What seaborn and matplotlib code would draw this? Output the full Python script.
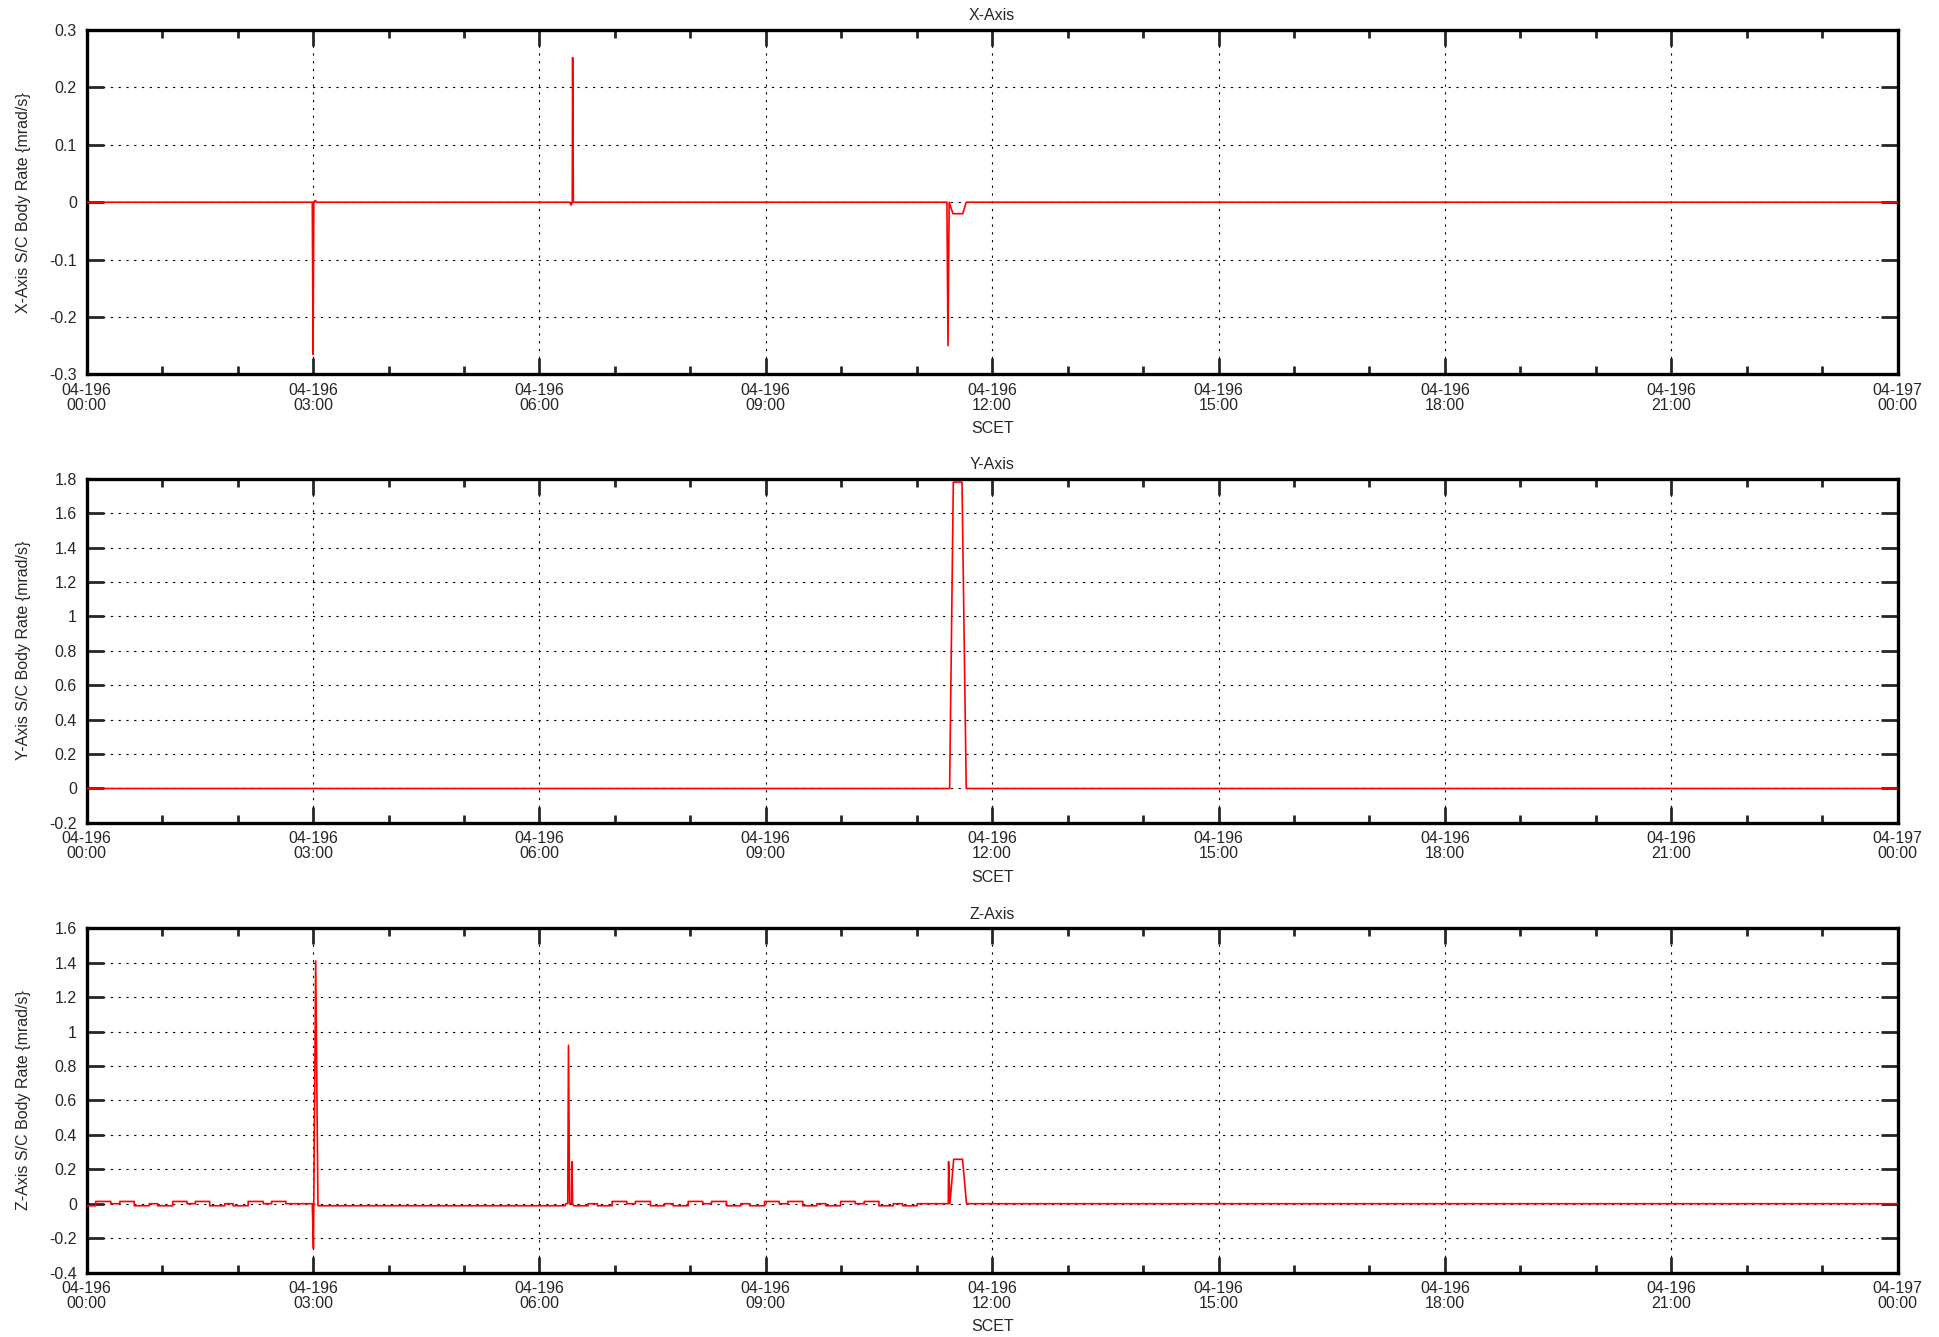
import matplotlib
matplotlib.use("Agg")
import matplotlib.pyplot as plt
import seaborn as sns
import pandas as pd
from matplotlib.ticker import FixedLocator, MultipleLocator

# time is hours since 04-196 00:00 SCET
x_hours = [0, 2.99, 3.0, 3.01, 3.03, 3.05, 6.40, 6.42, 6.435, 6.44, 6.45,
           11.40, 11.414, 11.43, 11.48, 11.61, 11.656, 24]
x_rate = [0, 0, -0.265, 0, 0.003, 0, 0, -0.005, 0, 0.252, 0,
          0, -0.25, 0, -0.02, -0.02, 0, 0]

y_hours = [0, 11.436, 11.485, 11.60, 11.656, 24]
y_rate = [0, 0, 1.78, 1.78, 0, 0]

z_hours = [0, 0.12, 0.12, 0.32, 0.32, 0.44, 0.44, 0.63, 0.63, 0.83, 0.83, 0.94, 0.94,
           1.14, 1.14, 1.33, 1.33, 1.44, 1.44, 1.63, 1.63, 1.83, 1.83, 1.94, 1.94,
           2.14, 2.14, 2.34, 2.34, 2.45, 2.45, 2.64, 2.64, 2.99,
           3.005, 3.035, 3.065, 6.34, 6.35, 6.375, 6.385, 6.40, 6.425, 6.43, 6.44, 6.455,
           6.645, 6.645, 6.769, 6.769, 6.963, 6.963, 7.157, 7.157, 7.273, 7.273,
           7.471, 7.471, 7.657, 7.657, 7.772, 7.772, 7.971, 7.971, 8.165, 8.165,
           8.280, 8.280, 8.479, 8.479, 8.669, 8.669, 8.788, 8.788, 8.983, 8.983,
           9.177, 9.177, 9.292, 9.292, 9.491, 9.491, 9.677, 9.677, 9.796, 9.796,
           9.991, 9.991, 10.185, 10.185, 10.304, 10.304, 10.499, 10.499, 10.689, 10.689,
           10.813, 10.813, 11.007, 11.007, 11.418, 11.422, 11.44, 11.49, 11.607, 11.66, 24]
z_rate = [-0.012, -0.012, 0.013, 0.013, 0, 0, 0.013, 0.013, -0.012, -0.012, 0, 0, -0.012,
          -0.012, 0.013, 0.013, 0, 0, 0.013, 0.013, -0.012, -0.012, 0, 0, -0.012,
          -0.012, 0.013, 0.013, 0, 0, 0.013, 0.013, 0, 0,
          -0.26, 1.41, -0.012, -0.012, 0, 0, 0.92, 0, 0, 0.244, 0, -0.012,
          -0.012, 0, 0, -0.012, -0.012, 0.013, 0.013, 0, 0, 0.013,
          0.013, -0.012, -0.012, 0, 0, -0.012, -0.012, 0.013, 0.013, 0,
          0, 0.013, 0.013, -0.012, -0.012, 0, 0, -0.012, -0.012, 0.013,
          0.013, 0, 0, 0.013, 0.013, -0.012, -0.012, 0, 0, -0.012,
          -0.012, 0.013, 0.013, 0, 0, 0.013, 0.013, -0.012, -0.012, 0,
          0, -0.012, -0.012, 0, 0, 0.244, 0, 0.258, 0.258, 0, 0]

tick_hours = [0, 3, 6, 9, 12, 15, 18, 21, 24]
tick_labels = ["04-196\n00:00", "04-196\n03:00", "04-196\n06:00", "04-196\n09:00",
               "04-196\n12:00", "04-196\n15:00", "04-196\n18:00", "04-196\n21:00",
               "04-197\n00:00"]

x_ticks = [-0.3, -0.2, -0.1, 0, 0.1, 0.2, 0.3]
x_tick_labels = ["-0.3", "-0.2", "-0.1", "0", "0.1", "0.2", "0.3"]
y_ticks = [-0.2, 0, 0.2, 0.4, 0.6, 0.8, 1.0, 1.2, 1.4, 1.6, 1.8]
y_tick_labels = ["-0.2", "0", "0.2", "0.4", "0.6", "0.8", "1", "1.2", "1.4", "1.6", "1.8"]
z_ticks = [-0.4, -0.2, 0, 0.2, 0.4, 0.6, 0.8, 1.0, 1.2, 1.4, 1.6]
z_tick_labels = ["-0.4", "-0.2", "0", "0.2", "0.4", "0.6", "0.8", "1", "1.2", "1.4", "1.6"]

panels = [
    ("X-Axis", x_hours, x_rate, x_ticks, x_tick_labels, 0.7200),
    ("Y-Axis", y_hours, y_rate, y_ticks, y_tick_labels, 0.3845),
    ("Z-Axis", z_hours, z_rate, z_ticks, z_tick_labels, 0.0482),
]

sns.set_style("ticks")
plt.rcParams['font.family'] = ['Liberation Sans', 'DejaVu Sans']
plt.rcParams['font.size'] = 11.5

fig = plt.figure(figsize=(19.39, 13.37), dpi=100)

for title, hrs, vals, yt, ytl, bottom in panels:
    ax = fig.add_axes([0.0447, bottom, 0.934, 0.2575])
    df = pd.DataFrame({"SCET": hrs, "rate": vals})
    sns.lineplot(data=df, x="SCET", y="rate", ax=ax, estimator=None, sort=False,
                 color="#ff0000", linewidth=1.2, zorder=3)
    ax.set_xlim(0, 24)
    ax.set_ylim(yt[0], yt[-1])
    ax.xaxis.set_major_locator(FixedLocator(tick_hours))
    ax.xaxis.set_minor_locator(MultipleLocator(1))
    ax.set_xticklabels(tick_labels)
    ax.yaxis.set_major_locator(FixedLocator(yt))
    ax.set_yticklabels(ytl)
    for lab in ax.get_xticklabels():
        lab.set_linespacing(1.0)
    ax.tick_params(axis="x", which="major", direction="in", length=11.5, width=2,
                   top=True, bottom=True, pad=6, labelsize=11.5)
    ax.tick_params(axis="x", which="minor", direction="in", length=5.7, width=2,
                   top=True, bottom=True)
    ax.tick_params(axis="y", which="major", direction="in", length=12, width=2,
                   left=True, right=True, pad=7, labelsize=11.5)
    ax.grid(True, which="major", color="black", linewidth=0.8,
            linestyle=(0, (2, 5)), zorder=1)
    for sp in ax.spines.values():
        sp.set_visible(True)
        sp.set_linewidth(2.4)
        sp.set_color("black")
    ax.set_title(title, fontsize=11.5, pad=7)
    ax.set_xlabel("SCET", fontsize=11.5, labelpad=6)
    ax.set_ylabel(title + " S/C Body Rate {mrad/s}", fontsize=11.5, labelpad=13)

fig.savefig("out.png", dpi=100)
